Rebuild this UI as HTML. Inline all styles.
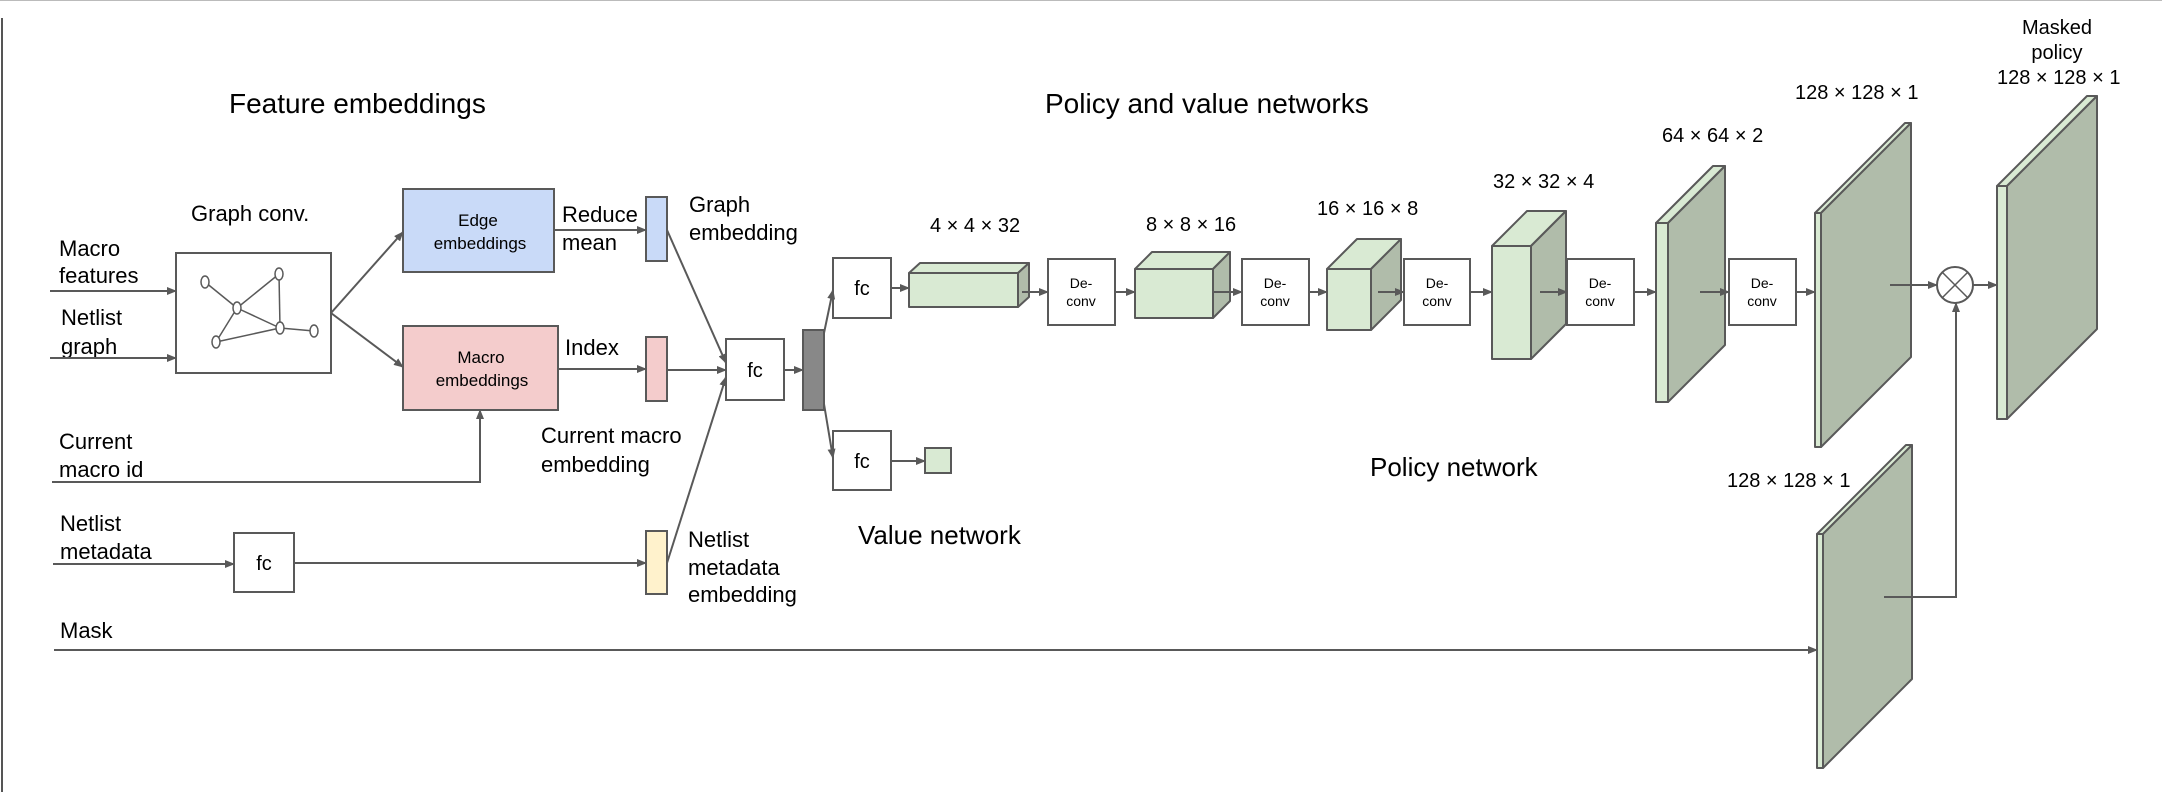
<!DOCTYPE html>
<html><head><meta charset="utf-8"><style>
html,body{margin:0;padding:0;background:#fff;}
svg{display:block;font-family:"Liberation Sans",sans-serif;}
</style></head><body>
<svg width="2162" height="792" viewBox="0 0 2162 792" xmlns="http://www.w3.org/2000/svg">
<defs>
<marker id="a" markerWidth="10" markerHeight="8" refX="9" refY="4" orient="auto" markerUnits="userSpaceOnUse">
<path d="M0,0 L10,4 L0,8 z" fill="#595959"/></marker>
</defs>
<line x1="0" y1="0.5" x2="2162" y2="0.5" stroke="#bbb" stroke-width="1"/>
<line x1="2" y1="18" x2="2" y2="792" stroke="#555" stroke-width="2"/>

<g fill="#000">
<text x="229" y="113" font-size="28">Feature embeddings</text>
<text x="1045" y="113" font-size="28">Policy and value networks</text>
<text x="191" y="221" font-size="22">Graph conv.</text>
<text x="59" y="256" font-size="22">Macro</text>
<text x="59" y="283" font-size="22">features</text>
<text x="61" y="325" font-size="22">Netlist</text>
<text x="61" y="354" font-size="22">graph</text>
<text x="59" y="449" font-size="22">Current</text>
<text x="59" y="477" font-size="22">macro id</text>
<text x="60" y="531" font-size="22">Netlist</text>
<text x="60" y="559" font-size="22">metadata</text>
<text x="60" y="638" font-size="22">Mask</text>
<text x="562" y="222" font-size="22">Reduce</text>
<text x="562" y="250" font-size="22">mean</text>
<text x="565" y="355" font-size="22">Index</text>
<text x="541" y="443" font-size="22">Current macro</text>
<text x="541" y="472" font-size="22">embedding</text>
<text x="689" y="212" font-size="22">Graph</text>
<text x="689" y="240" font-size="22">embedding</text>
<text x="688" y="547" font-size="22">Netlist</text>
<text x="688" y="575" font-size="22">metadata</text>
<text x="688" y="602" font-size="22">embedding</text>
<text x="858" y="544" font-size="26">Value network</text>
<text x="1370" y="476" font-size="26">Policy network</text>
<g font-size="20">
<text x="930" y="232">4 × 4 × 32</text>
<text x="1146" y="231">8 × 8 × 16</text>
<text x="1317" y="215">16 × 16 × 8</text>
<text x="1493" y="188">32 × 32 × 4</text>
<text x="1662" y="142">64 × 64 × 2</text>
<text x="1795" y="99">128 × 128 × 1</text>
<text x="1727" y="487">128 × 128 × 1</text>
<text x="1997" y="84">128 × 128 × 1</text>
<text x="2057" y="34" text-anchor="middle">Masked</text>
<text x="2057" y="59" text-anchor="middle">policy</text>
</g>
</g>

<g stroke="#595959" stroke-width="2" fill="#fff">
<rect x="176" y="253" width="155" height="120"/>
<g stroke-width="1.5" fill="none">
<line x1="205" y1="282" x2="237" y2="308"/><line x1="279" y1="274" x2="237" y2="308"/>
<line x1="279" y1="274" x2="280" y2="328"/><line x1="237" y1="308" x2="280" y2="328"/>
<line x1="280" y1="328" x2="314" y2="331"/><line x1="237" y1="308" x2="216" y2="342"/>
<line x1="216" y1="342" x2="280" y2="328"/>
</g>
<g stroke-width="1.5" fill="#fff">
<ellipse cx="205" cy="282" rx="4" ry="6"/><ellipse cx="279" cy="274" rx="4" ry="6"/>
<ellipse cx="237" cy="308" rx="4" ry="6"/><ellipse cx="280" cy="328" rx="4" ry="6"/>
<ellipse cx="314" cy="331" rx="4" ry="6"/><ellipse cx="216" cy="342" rx="4" ry="6"/>
</g>
<rect x="403" y="189" width="151" height="83" fill="#c9daf8"/>
<rect x="403" y="326" width="155" height="84" fill="#f4cccc"/>
<rect x="646" y="197" width="21" height="64" fill="#c9daf8"/>
<rect x="646" y="337" width="21" height="64" fill="#f4cccc"/>
<rect x="646" y="531" width="21" height="63" fill="#fff2cc"/>
<rect x="234" y="533" width="60" height="59"/>
<rect x="726" y="339" width="58" height="61"/>
<rect x="803" y="330" width="21" height="80" fill="#888"/>
<rect x="833" y="258" width="58" height="60"/>
<rect x="833" y="431" width="58" height="59"/>
<rect x="925" y="448" width="26" height="25" fill="#d9ead3"/>
<rect x="1048" y="259" width="67" height="66"/>
<rect x="1242" y="259" width="67" height="66"/>
<rect x="1404" y="259" width="66" height="66"/>
<rect x="1567" y="259" width="67" height="66"/>
<rect x="1729" y="259" width="67" height="66"/>
<circle cx="1955" cy="285" r="18"/>
<line x1="1942" y1="272" x2="1968" y2="298" stroke-width="1.5"/>
<line x1="1968" y1="272" x2="1942" y2="298" stroke-width="1.5"/>
</g>

<g font-size="17" text-anchor="middle">
<text x="478" y="226">Edge</text><text x="480" y="249">embeddings</text>
<text x="481" y="363">Macro</text><text x="482" y="386">embeddings</text>
</g>
<g font-size="20" text-anchor="middle">
<text x="264" y="570">fc</text><text x="755" y="377">fc</text>
<text x="862" y="295">fc</text><text x="862" y="468">fc</text>
</g>
<g font-size="14" text-anchor="middle">
<text x="1081" y="288">De-</text><text x="1081" y="306">conv</text>
<text x="1275" y="288">De-</text><text x="1275" y="306">conv</text>
<text x="1437" y="288">De-</text><text x="1437" y="306">conv</text>
<text x="1600" y="288">De-</text><text x="1600" y="306">conv</text>
<text x="1762" y="288">De-</text><text x="1762" y="306">conv</text>
</g>

<g stroke="#595959" stroke-width="2" stroke-linejoin="round">
<rect x="909" y="273" width="109" height="34" fill="#d9ead3"/>
<polygon points="909,273 920,263 1029,263 1018,273" fill="#d9ead3"/>
<polygon points="1018,273 1029,263 1029,297 1018,307" fill="#b0bcaa"/>
<rect x="1135" y="269" width="78" height="49" fill="#d9ead3"/>
<polygon points="1135,269 1152,252 1230,252 1213,269" fill="#d9ead3"/>
<polygon points="1213,269 1230,252 1230,301 1213,318" fill="#b0bcaa"/>
<rect x="1327" y="269" width="44" height="61" fill="#d9ead3"/>
<polygon points="1327,269 1357,239 1401,239 1371,269" fill="#d9ead3"/>
<polygon points="1371,269 1401,239 1401,300 1371,330" fill="#b0bcaa"/>
<rect x="1492" y="246" width="39" height="113" fill="#d9ead3"/>
<polygon points="1492,246 1527,211 1566,211 1531,246" fill="#d9ead3"/>
<polygon points="1531,246 1566,211 1566,324 1531,359" fill="#b0bcaa"/>
<rect x="1656" y="223" width="12" height="179" fill="#d9ead3"/>
<polygon points="1656,223 1713,166 1725,166 1668,223" fill="#d9ead3"/>
<polygon points="1668,223 1725,166 1725,345 1668,402" fill="#b0bcaa"/>
<rect x="1815" y="213" width="6" height="234" fill="#d9ead3"/>
<polygon points="1815,213 1905,123 1911,123 1821,213" fill="#d9ead3"/>
<polygon points="1821,213 1911,123 1911,357 1821,447" fill="#b0bcaa"/>
<rect x="1997" y="186" width="10" height="233" fill="#d9ead3"/>
<polygon points="1997,186 2087,96 2097,96 2007,186" fill="#d9ead3"/>
<polygon points="2007,186 2097,96 2097,329 2007,419" fill="#b0bcaa"/>
<rect x="1817" y="534" width="6" height="234" fill="#d9ead3"/>
<polygon points="1817,534 1906,445 1912,445 1823,534" fill="#d9ead3"/>
<polygon points="1823,534 1912,445 1912,679 1823,768" fill="#b0bcaa"/>
</g>

<g stroke="#595959" stroke-width="2" fill="none" marker-end="url(#a)">
<line x1="50" y1="291" x2="176" y2="291"/>
<line x1="50" y1="358" x2="176" y2="358"/>
<line x1="331" y1="313" x2="403" y2="232"/>
<line x1="331" y1="313" x2="403" y2="367"/>
<polyline points="52,482 480,482 480,410"/>
<line x1="53" y1="564" x2="234" y2="564"/>
<line x1="294" y1="563" x2="646" y2="563"/>
<line x1="554" y1="230" x2="646" y2="230"/>
<line x1="558" y1="369" x2="646" y2="369"/>
<line x1="667" y1="230" x2="726" y2="363"/>
<line x1="667" y1="370" x2="726" y2="370"/>
<line x1="667" y1="563" x2="726" y2="377"/>
<line x1="784" y1="370" x2="803" y2="370"/>
<line x1="824" y1="333" x2="833" y2="290"/>
<line x1="824" y1="404" x2="833" y2="458"/>
<line x1="891" y1="461" x2="925" y2="461"/>
<line x1="891" y1="288" x2="909" y2="288"/>
<line x1="1022" y1="292" x2="1048" y2="292"/>
<line x1="1115" y1="292" x2="1135" y2="292"/>
<line x1="1213" y1="292" x2="1242" y2="292"/>
<line x1="1309" y1="292" x2="1327" y2="292"/>
<line x1="1378" y1="292" x2="1404" y2="292"/>
<line x1="1470" y1="292" x2="1492" y2="292"/>
<line x1="1540" y1="292" x2="1567" y2="292"/>
<line x1="1634" y1="292" x2="1656" y2="292"/>
<line x1="1700" y1="292" x2="1729" y2="292"/>
<line x1="1796" y1="292" x2="1815" y2="292"/>
<line x1="1890" y1="285" x2="1937" y2="285"/>
<line x1="1973" y1="285" x2="1997" y2="285"/>
<polyline points="1884,597 1956,597 1956,303"/>
<line x1="54" y1="650" x2="1817" y2="650"/>
</g>
</svg>
</body></html>
